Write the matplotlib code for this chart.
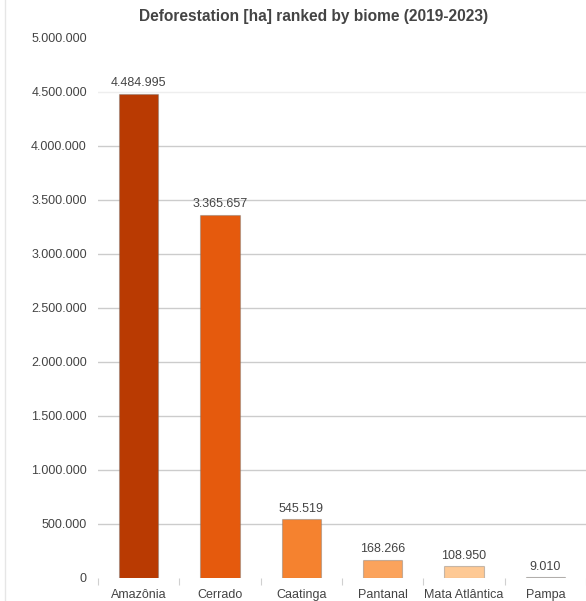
import matplotlib
matplotlib.use("Agg")
import matplotlib.pyplot as plt
from matplotlib.lines import Line2D

biomes = ["Amazônia", "Cerrado", "Caatinga", "Pantanal", "Mata Atlântica", "Pampa"]
area_ha = [4484995, 3365657, 545519, 168266, 108950, 9010]
colors = ["#b93a02", "#e55a0d", "#f5822f", "#fba35c", "#fec994", "#b9afa5"]
y_ticks = list(range(0, 5000001, 500000))


def fmt(v):
    # separador de milhar com ponto
    return f"{v:,}".replace(",", ".")


def main():
    plt.rcParams['font.family'] = ['Liberation Sans', 'DejaVu Sans']
    fig = plt.figure(figsize=(5.86, 6.01), dpi=100)
    ax = fig.add_axes([98 / 586, 23 / 601, 488 / 586, 540 / 601])

    x = list(range(len(biomes)))
    ax.bar(x, area_ha, width=0.48, color=colors,
           edgecolor=(0.45, 0.45, 0.45, 0.4), linewidth=0.8, zorder=3)

    for xi, v in zip(x, area_ha):
        ax.annotate(fmt(v), (xi, v), xytext=(0, 7.5), textcoords="offset points",
                    ha="center", va="center", fontsize=9, color="#444444")

    for t in y_ticks[1:-1]:
        c = "#eeeeee" if t == 4500000 else "#cccccc"
        ax.axhline(t, color=c, linewidth=1, zorder=1)

    ax.set_ylim(0, 5000000)
    ax.set_xlim(-0.5, (586 - 98) / 82.2 - 0.5)
    ax.set_yticks(y_ticks)
    ax.set_yticklabels([fmt(t) for t in y_ticks])
    ax.set_xticks(x)
    ax.set_xticklabels(biomes)
    ax.set_xticks([i - 0.5 for i in range(len(biomes) + 1)], minor=True)

    ax.tick_params(axis="y", length=0, pad=8, labelsize=9, labelcolor="#444444")
    ax.tick_params(axis="x", which="major", length=0, pad=8, labelsize=9,
                   labelcolor="#444444")
    ax.tick_params(axis="x", which="minor", length=5, width=0.8, color="#d0d0d0",
                   direction="out")
    for s in ax.spines.values():
        s.set_visible(False)

    fig.text(313.5 / 586, 1 - 16 / 601, "Deforestation [ha] ranked by biome (2019-2023)",
             fontsize=11.2, fontweight="bold", color="#444444", ha="center", va="center")

    fig.add_artist(Line2D([5 / 586, 5 / 586], [0, 1], color="#e6e6e6",
                          linewidth=1, transform=fig.transFigure))

    fig.savefig("out.png", dpi=100)


if __name__ == "__main__":
    main()
